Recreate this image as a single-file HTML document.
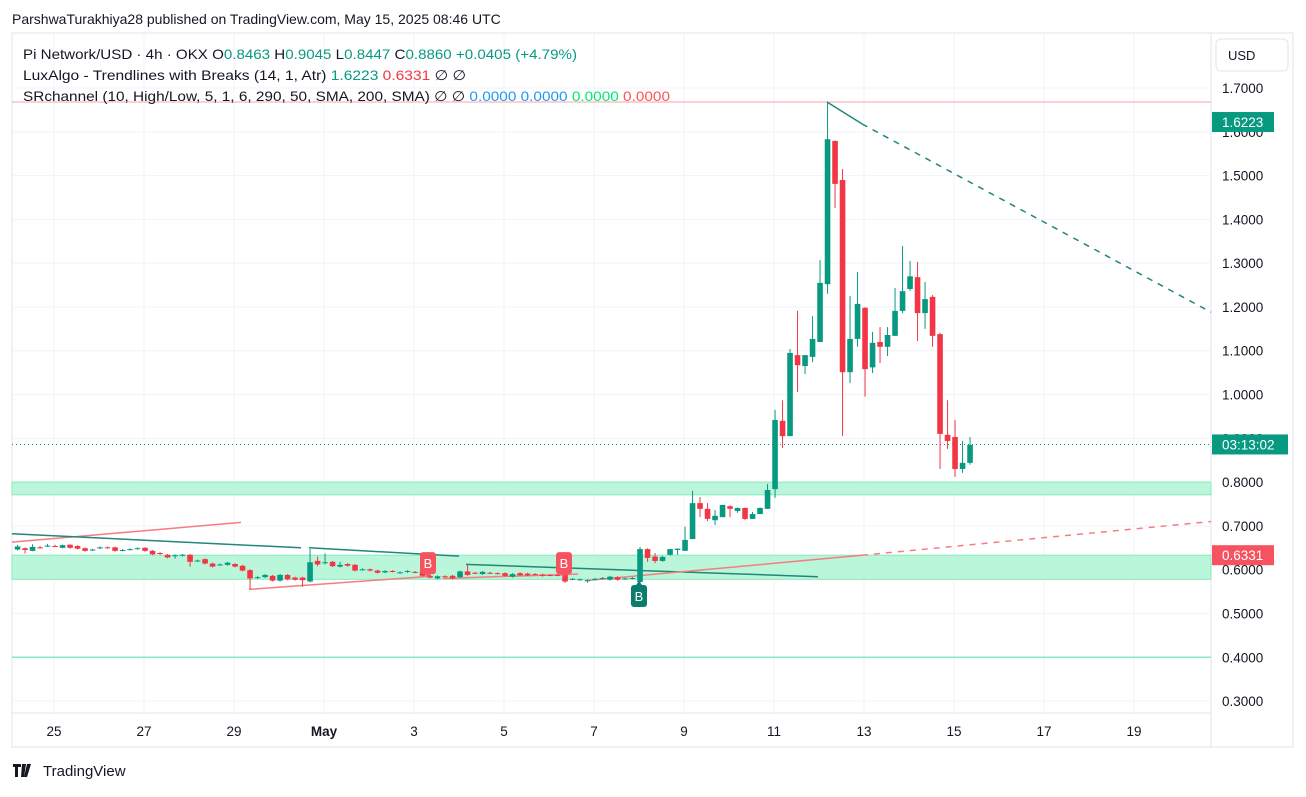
<!DOCTYPE html>
<html><head><meta charset="utf-8"><style>
body{margin:0;background:#fff;font-family:"Liberation Sans",sans-serif;}
svg text{font-family:"Liberation Sans",sans-serif;}
</style></head><body>
<svg id="c" width="1306" height="792" xmlns="http://www.w3.org/2000/svg">
<rect width="1306" height="792" fill="#fff"/>
<text x="12" y="24" font-size="14" fill="#131722">ParshwaTurakhiya28 published on TradingView.com, May 15, 2025 08:46 UTC</text>
<rect x="12" y="33" width="1281" height="714" fill="none" stroke="#e0e3eb" stroke-width="1"/>
<line x1="1211" y1="33" x2="1211" y2="747" stroke="#e0e3eb"/>
<line x1="12" y1="713" x2="1211" y2="713" stroke="#e0e3eb"/>
<g id="grid"></g>
<g id="zones"></g>
<g id="lines"></g>
<g id="candles"></g>
<g id="marks"></g>
<g id="yaxis"></g>
<g id="xaxis"></g>
<g font-size="14">
<text x="23" y="59" fill="#131722" textLength="554" lengthAdjust="spacingAndGlyphs">Pi Network/USD · 4h · OKX  O<tspan fill="#089981">0.8463</tspan> H<tspan fill="#089981">0.9045</tspan> L<tspan fill="#089981">0.8447</tspan> C<tspan fill="#089981">0.8860 +0.0405 (+4.79%)</tspan></text>
<text x="23" y="80" fill="#131722" textLength="443" lengthAdjust="spacingAndGlyphs">LuxAlgo - Trendlines with Breaks (14, 1, Atr)  <tspan fill="#089981">1.6223</tspan>  <tspan fill="#f23645">0.6331</tspan>  ∅  ∅</text>
<text x="23" y="101" fill="#131722" textLength="647" lengthAdjust="spacingAndGlyphs">SRchannel (10, High/Low, 5, 1, 6, 290, 50, SMA, 200, SMA)  ∅  ∅  <tspan fill="#2196f3">0.0000</tspan>  <tspan fill="#2196f3">0.0000</tspan>  <tspan fill="#00e676">0.0000</tspan>  <tspan fill="#ff5252">0.0000</tspan></text>
</g>
<rect x="1216" y="39" width="72" height="32" rx="5" fill="#fff" stroke="#e0e3eb"/>
<text x="1228" y="60" font-size="13" fill="#131722">USD</text>
<g>
<path d="M13 764h8v3h-3v10h-3v-10h-2z M22 764h4l-2 13h-3z M27 764h4l-4 13h-3z" fill="#131722"/>
<text x="43" y="776" font-size="15" fill="#131722">TradingView</text>
</g>
</svg>
<script>
const NS="http://www.w3.org/2000/svg";
const opens=[.646,.649,.643,.651,.654,.654,.650,.657,.654,.649,.645,.649,.651,.651,.644,.646,.648,.650,.643,.638,.634,.631,.632,.634,.620,.624,.614,.611,.611,.613,.609,.599,.581,.583,.586,.575,.588,.582,.582,.573,.620,.616,.618,.607,.613,.611,.600,.601,.598,.594,.597,.593,.595,.595,.596,.586,.580,.585,.586,.583,.596,.593,.590,.593,.592,.592,.584,.592,.591,.590,.589,.588,.588,.589,.578,.577,.575,.578,.580,.577,.583,.579,.580,
.572,.647,.630,.620,.634,.645,.643,.670,.752,.739,.713,.720,.745,.734,.741,.716,.727,.739,.784,.940,.905,1.090,1.065,1.086,1.120,1.252,1.579,1.490,1.051,1.127,1.198,1.062,1.120,1.109,1.134,1.191,1.241,1.268,1.186,1.223,1.138,.908,.903,.830,.844];
const closes=[.653,.645,.652,.650,.655,.653,.656,.650,.648,.643,.646,.651,.650,.643,.645,.647,.649,.643,.635,.636,.628,.633,.634,.618,.621,.614,.607,.612,.616,.607,.598,.580,.583,.588,.575,.588,.578,.577,.576,.617,.612,.617,.608,.611,.609,.598,.601,.598,.593,.597,.596,.594,.597,.594,.586,.582,.585,.584,.580,.596,.588,.592,.595,.592,.591,.586,.590,.587,.587,.589,.586,.587,.587,.573,.579,.578,.576,.579,.581,.584,.577,.580,.581,
.647,.627,.620,.629,.647,.648,.668,.752,.739,.716,.723,.748,.739,.741,.716,.727,.741,.782,.942,.905,1.095,1.067,1.090,1.127,1.255,1.583,1.481,1.051,1.127,1.207,1.058,1.118,1.109,1.136,1.191,1.236,1.270,1.186,1.218,1.134,.910,.894,.830,.844,.885];
const highs=[.657,.651,.658,.654,.659,.657,.657,.658,.656,.651,.648,.653,.653,.653,.647,.649,.651,.651,.645,.640,.636,.635,.636,.636,.623,.626,.616,.614,.618,.615,.611,.601,.585,.590,.588,.590,.590,.584,.584,.647,.630,.637,.620,.618,.615,.613,.603,.603,.600,.599,.599,.596,.599,.597,.598,.588,.587,.587,.588,.598,.611,.595,.597,.595,.594,.594,.592,.594,.593,.592,.591,.590,.590,.591,.581,.580,.578,.581,.583,.586,.585,.582,.583,
.652,.649,.638,.632,.647,.648,.698,.780,.766,.752,.736,.748,.747,.742,.742,.732,.742,.796,.965,.987,1.104,1.191,1.090,1.179,1.307,1.668,1.580,1.515,1.225,1.280,1.200,1.143,1.154,1.154,1.243,1.339,1.305,1.303,1.257,1.227,1.141,.987,.942,.894,.903];
const lows=[.644,.637,.642,.648,.652,.652,.649,.648,.646,.641,.643,.647,.648,.641,.642,.644,.646,.641,.633,.634,.626,.625,.630,.607,.618,.612,.605,.609,.609,.605,.596,.555,.579,.581,.573,.573,.576,.575,.561,.571,.608,.612,.606,.605,.607,.596,.598,.596,.591,.592,.594,.591,.593,.592,.584,.580,.578,.582,.578,.581,.586,.590,.588,.590,.589,.584,.582,.585,.585,.587,.584,.585,.585,.570,.576,.575,.570,.576,.578,.575,.575,.577,.578,
.570,.618,.615,.618,.632,.634,.643,.670,.720,.711,.702,.720,.720,.730,.713,.716,.727,.739,.764,.878,.905,1.006,1.047,1.074,1.120,1.230,1.426,.905,1.026,1.109,.995,1.049,1.072,1.088,1.134,1.186,1.237,1.122,1.150,1.109,.830,.876,.812,.821,.840];
const startDay=24.19;
const priceTicks=[1.7,1.6,1.5,1.4,1.3,1.2,1.1,1.0,0.9,0.8,0.7,0.6,0.5,0.4,0.3];
const dayTicks=[25,27,29,31,33,35,37,39,41,43,45,47,49];
const dayLabels=["25","27","29","May","3","5","7","9","11","13","15","17","19"];
const resistance=[1.668];
const zonesTop=[0.800,0.6331];
const zonesBot=[0.771,0.578];
const supportLine=[0.400];
const lastPrice=0.886;

const y=p=>88+(1.7-p)*437.9;
const x=d=>54+(d-25)*45;
const cx=i=>x(startDay+i/6);
function el(t,a,p){const e=document.createElementNS(NS,t);for(const k in a)e.setAttribute(k,a[k]);p.appendChild(e);return e;}
const G=id=>document.getElementById(id);

priceTicks.forEach(p=>{
 const l=el('line',{x1:12,x2:1211,y1:y(p),y2:y(p),stroke:'#f0f3fa'},G('grid'));
 
 
 const t=el('text',{x:1222,y:y(p)+5,'font-size':13.5,fill:'#131722'},G('yaxis'));
 
 
 t.textContent=p.toFixed(4);
});
dayTicks.forEach((d,i)=>{
 const l=el('line',{x1:x(d),x2:x(d),y1:33,y2:713,stroke:'#f0f3fa'},G('grid'));
 
 
 const t=el('text',{x:x(d),y:736,'font-size':13.5,fill:'#131722','text-anchor':'middle','font-weight':dayLabels[i]=='May'?'bold':'normal'},G('xaxis'));
 
 
 t.textContent=dayLabels[i];
});
zonesTop.forEach((tp,i)=>{
 const r=el('rect',{x:12,y:y(tp),width:1199,height:y(zonesBot[i])-y(tp),fill:'#b9f6da',stroke:'#8ae8bd'},G('zones'));
 
 
});
resistance.forEach(p=>{const l=el('line',{x1:12,x2:1211,y1:y(p),y2:y(p),stroke:'#f9c4c4','stroke-width':1.5},G('zones'));
 
 });
supportLine.forEach(p=>{const l=el('line',{x1:12,x2:1211,y1:y(p),y2:y(p),stroke:'#8ae8cc','stroke-width':1.5},G('zones'));
 
 });
{const l=el('line',{x1:12,x2:1211,y1:y(lastPrice),y2:y(lastPrice),stroke:'#089981','stroke-dasharray':'1 3'},G('zones'));
 
 }
const tl=[[12,0.663,241,0.708,'#f77c80',0],[12,0.682,301,0.650,'#22867a',0],[309,0.650,459,0.631,'#22867a',0],[249,0.555,431,0.585,'#f77c80',0],[443,0.580,578,0.590,'#f77c80',0],[466,0.612,818,0.584,'#22867a',0],[585,0.575,862,0.633,'#f77c80',0],[862,0.633,1211,0.710,'#f77c80',1],[827,1.668,862,1.618,'#22867a',0],[862,1.618,1211,1.188,'#22867a',1]];
tl.forEach(a=>{const l=el('line',{x1:a[0],y1:y(a[1]),x2:a[2],y2:y(a[3]),stroke:a[4],'stroke-width':1.5,'stroke-dasharray':a[5]?'6 6':'none'},G('lines'));
 
 });
opens.forEach((o,i)=>{
 const c=closes[i],up=c>=o,col=up?'#089981':'#f23645',X=cx(i);
 const g=el('g',{},G('candles'));
 
 
 el('line',{x1:X,x2:X,y1:y(highs[i]),y2:y(lows[i]),stroke:col,'stroke-width':1},g);
 const t=y(Math.max(o,c)),b=y(Math.min(o,c));
 el('rect',{x:X-2.8,y:t,width:5.6,height:Math.max(1,b-t),fill:col},g);
});
[[428,0.615,'#f7525f',0],[564,0.615,'#f7525f',0],[639,0.540,'#0b7d6e',1]].forEach(m=>{
 const g=el('g',{},G('marks'));
 
 
 const Y=y(m[1]);
 el('rect',{x:m[0]-8,y:Y-11,width:16,height:22,rx:3,fill:m[2]},g);
 el('path',{d:m[3]?`M${m[0]-3} ${Y-11}L${m[0]} ${Y-15}L${m[0]+3} ${Y-11}Z`:`M${m[0]-3} ${Y+11}L${m[0]} ${Y+15}L${m[0]+3} ${Y+11}Z`,fill:m[2]},g);
 const t=el('text',{x:m[0],y:Y+5,'text-anchor':'middle','font-size':13,fill:'#fff'},g);t.textContent='B';
});
[[1.6223,'#089981','1.6223'],[lastPrice,'#089981','03:13:02'],[0.6331,'#f7525f','0.6331']].forEach(b=>{
 const g=el('g',{},G('yaxis'));
 
 
 el('rect',{x:1212,y:y(b[0])-10,width:b[2].length>6?76:62,height:20,fill:b[1]},g);
 const t=el('text',{x:1222,y:y(b[0])+5,'font-size':13.5,fill:'#fff'},g);t.textContent=b[2];
});
</script>
</body></html>
